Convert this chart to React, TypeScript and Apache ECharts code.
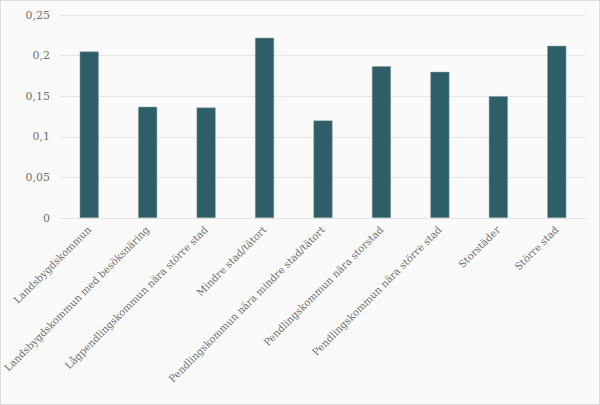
import React, { useEffect, useRef } from "react";
import * as echarts from "echarts";

const categories = [
  "Landsbygdskommun",
  "Landsbygdskommun med besöksnäring",
  "Lågpendlingskommun nära större stad",
  "Mindre stad/tätort",
  "Pendlingskommun nära mindre stad/tätort",
  "Pendlingskommun nära storstad",
  "Pendlingskommun nära större stad",
  "Storstäder",
  "Större stad",
];
const values = [0.205, 0.137, 0.136, 0.222, 0.12, 0.187, 0.18, 0.15, 0.212];

export default function App() {
  const ref = useRef<HTMLDivElement>(null);
  useEffect(() => {
    const chart = echarts.init(ref.current!, null, { renderer: "svg" });
    chart.setOption({
      animation: false,
      backgroundColor: "#fafafa",
      textStyle: { fontFamily: "DejaVu Serif" },
      grid: { left: 59, right: 13, top: 14, bottom: 186, containLabel: false, outerBoundsMode: "none" },
      xAxis: {
        type: "category",
        data: categories,
        axisLine: { show: true, lineStyle: { color: "#e6e6e6", width: 1 } },
        axisTick: { show: false },
        axisLabel: {
          rotate: 45,
          interval: 0,
          color: "#707070",
          fontSize: 10,
          fontFamily: "DejaVu Serif",
          margin: 10,
        },
      },
      yAxis: {
        type: "value",
        min: 0,
        max: 0.25,
        interval: 0.05,
        axisLine: { show: false },
        axisTick: { show: false },
        splitLine: { lineStyle: { color: "#e6e6e6", width: 1 } },
        axisLabel: {
          color: "#707070",
          fontSize: 11,
          fontFamily: "DejaVu Serif",
          margin: 10,
          formatter: (v: number) => String(Math.round(v * 100) / 100).replace(".", ","),
        },
      },
      series: [
        {
          type: "bar",
          data: values,
          barWidth: 19,
          itemStyle: { color: "#2e5f68", borderColor: "#8aa0a4", borderWidth: 0.5 },
        },
      ],
    });
    return () => chart.dispose();
  }, []);
  return (
    <div
      style={{
        position: "absolute",
        left: 0,
        top: 0,
        width: 600,
        height: 405,
        boxSizing: "border-box",
        border: "1px solid #dedede",
        background: "#fafafa",
      }}
    >
      <div ref={ref} style={{ width: 598, height: 403 }} />
    </div>
  );
}
